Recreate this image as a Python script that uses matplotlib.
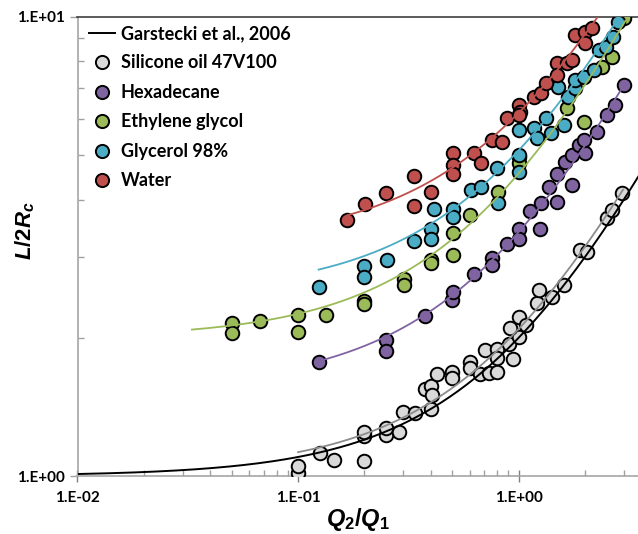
import numpy as np
import matplotlib
matplotlib.use("Agg")
import matplotlib.pyplot as plt
from matplotlib.lines import Line2D
from matplotlib.ticker import FixedLocator, FixedFormatter, NullFormatter

plt.rcParams["font.family"] = ["Lato", "DejaVu Sans"]
plt.rcParams["mathtext.fontset"] = "custom"
plt.rcParams["mathtext.it"] = "Liberation Sans:italic:bold"
plt.rcParams["mathtext.rm"] = "Liberation Sans:bold"

# ---------------- data (Q2/Q1, L/2Rc) ----------------
silicone_x = [0.1, 0.1, 0.126, 0.145, 0.2, 0.2, 0.2, 0.25, 0.25, 0.286, 0.3, 0.3375,
              0.4, 0.376, 0.4, 0.406, 0.428, 0.5, 0.5, 0.6, 0.6, 0.666, 0.734, 0.8,
              0.708, 0.8, 0.8, 0.946, 0.904, 1.0, 0.91, 1.0, 1.076, 1.215, 1.24,
              1.42, 1.61, 1.90, 2.05, 2.52, 2.66, 2.95]
silicone_y = [1.015, 1.053, 1.12, 1.083, 1.08, 1.22, 1.25, 1.23, 1.27, 1.245, 1.38, 1.374,
              1.40, 1.545, 1.57, 1.50, 1.668, 1.687, 1.632, 1.774, 1.717, 1.668, 1.673, 1.687,
              1.882, 1.888, 1.805, 1.796, 1.935, 2.01, 2.10, 2.22, 2.13, 2.38, 2.54,
              2.46, 2.61, 3.11, 3.07, 3.64, 3.80, 4.13]

hexadecane_x = [0.125, 0.25, 0.25, 0.376, 0.5, 0.504, 0.627, 0.754, 0.754, 0.882, 1.0, 1.0,
                1.25, 1.13, 1.26, 1.50, 1.37, 1.50, 1.75, 1.62, 1.75, 1.88, 2.01, 1.98,
                2.26, 2.51, 2.75, 3.0]
hexadecane_y = [1.775, 1.98, 1.87, 2.23, 2.42, 2.52, 2.76, 2.98, 2.88, 3.20, 3.45, 3.28,
                3.45, 3.77, 3.93, 3.96, 4.27, 4.56, 4.31, 4.82, 5.0, 5.26, 5.05, 5.40,
                5.63, 6.12, 6.43, 7.11]

ethylene_x = [0.05, 0.05, 0.067, 0.1, 0.1, 0.134, 0.2, 0.2, 0.302, 0.302, 0.402, 0.402,
              0.504, 0.504, 0.6, 0.806, 1.0, 1.0, 1.66, 1.98, 2.38, 2.66, 3.02]
ethylene_y = [2.15, 2.05, 2.18, 2.24, 2.06, 2.24, 2.40, 2.37, 2.68, 2.61, 2.96, 2.91,
              3.03, 3.38, 3.70, 4.16, 4.96, 4.80, 6.33, 5.91, 7.79, 8.20, 9.94]

glycerol_x = [0.125, 0.2, 0.2, 0.252, 0.335, 0.4, 0.4, 0.413, 0.504, 0.504, 0.606, 0.673,
              0.8, 0.806, 1.0, 1.0, 1.0, 1.17, 1.215, 1.33, 1.40, 1.51, 1.60, 1.67,
              1.81, 1.81, 1.98, 2.19, 2.31, 2.48, 2.69, 2.82]
glycerol_y = [2.58, 2.87, 2.72, 2.96, 3.25, 3.45, 3.28, 3.82, 3.82, 3.67, 4.20, 4.27,
              4.68, 3.93, 5.0, 4.60, 5.67, 5.72, 5.44, 6.02, 5.58, 7.03, 5.82, 6.70,
              6.99, 7.29, 7.41, 7.66, 8.48, 8.61, 9.06, 9.77]

water_x = [0.167, 0.202, 0.251, 0.335, 0.335, 0.40, 0.504, 0.504, 0.504, 0.627, 0.673,
           0.76, 0.843, 0.882, 1.0, 1.01, 1.0, 1.17, 1.26, 1.33, 1.50, 1.50, 1.66,
           1.75, 1.81, 2.01, 2.01, 2.16]
water_y = [3.61, 3.91, 4.13, 4.50, 3.88, 4.16, 5.05, 4.76, 4.56, 5.06, 4.80,
           5.40, 5.35, 6.02, 6.43, 6.22, 6.12, 6.70, 6.82, 7.17, 7.93, 7.47, 7.93,
           8.06, 9.14, 9.29, 8.76, 9.45]

# linear trendlines L/2Rc = a + b*Q2/Q1 : (a, b, x_start, x_end)
garstecki_fit = (1.0, 1.0, 0.01, 3.5)
silicone_fit = (1.02, 1.07, 0.1, 2.98)
hexadecane_fit = (1.55, 1.85, 0.125, 3.0)
ethylene_fit = (2.0, 2.56, 0.033, 3.05)
glycerol_fit = (2.49, 2.63, 0.124, 2.83)
water_fit = (3.20, 2.98, 0.167, 2.28)

x_ticks = [0.01, 0.1, 1.0]
x_tick_labels = ["1.E-02", "1.E-01", "1.E+00"]
y_ticks = [1.0, 10.0]
y_tick_labels = ["1.E+00", "1.E+01"]

series = [
    ("Silicone oil 47V100", silicone_x, silicone_y, silicone_fit, "#D9D9D9", "#8C8C8C"),
    ("Hexadecane", hexadecane_x, hexadecane_y, hexadecane_fit, "#8064A2", "#8064A2"),
    ("Ethylene glycol", ethylene_x, ethylene_y, ethylene_fit, "#9BBB59", "#9BBB59"),
    ("Glycerol 98%", glycerol_x, glycerol_y, glycerol_fit, "#4BACC6", "#4BACC6"),
    ("Water", water_x, water_y, water_fit, "#C0504D", "#C0504D"),
]


def fit_line(fit, n=200):
    a, b, x0, x1 = fit
    xs = np.logspace(np.log10(x0), np.log10(x1), n)
    return xs, a + b * xs


fig = plt.figure(figsize=(6.38, 5.34), dpi=100)
ax = fig.add_axes([77.5 / 638, 1 - 476 / 534, 1 - 77.5 / 638, 459 / 534])
ax.set_xscale("log")
ax.set_yscale("log")

for name, xs, ys, fit, fc, lc in series:
    ax.scatter(xs, ys, s=95, facecolor=fc, edgecolor="black", linewidth=1.4, zorder=3)
for name, xs, ys, fit, fc, lc in series:
    fx, fy = fit_line(fit)
    ax.plot(fx, fy, color=lc, lw=1.3, zorder=4)

gx, gy = fit_line(garstecki_fit)
ax.plot(gx, gy, color="black", lw=1.4, zorder=4)

ax.set_xlim(0.01, 3.48)
ax.set_ylim(1.0, 10.0)

ax.xaxis.set_major_locator(FixedLocator(x_ticks))
ax.xaxis.set_major_formatter(FixedFormatter(x_tick_labels))
ax.yaxis.set_major_locator(FixedLocator(y_ticks))
ax.yaxis.set_major_formatter(FixedFormatter(y_tick_labels))
ax.xaxis.set_minor_formatter(NullFormatter())
ax.yaxis.set_minor_formatter(NullFormatter())

for lab in ax.get_xticklabels() + ax.get_yticklabels():
    lab.set_fontweight("bold")
    lab.set_fontsize(11)

ax.tick_params(axis="x", which="major", direction="inout", length=9, width=1, color="#808080", pad=6)
ax.tick_params(axis="y", which="major", direction="out", length=6, width=1, color="#A0A0A0", pad=3)
ax.tick_params(which="minor", direction="in", length=4, width=1, color="#A0A0A0")

for side in ["left", "bottom"]:
    ax.spines[side].set_color("#A6A6A6")
    ax.spines[side].set_linewidth(1.2)
ax.spines["right"].set_visible(False)
ax.spines["top"].set_color("#404040")
ax.spines["top"].set_linewidth(1.2)

ax.set_xlabel(r"$Q_2/Q_1$", fontsize=17, labelpad=1)
ax.set_ylabel(r"$L/2R_c$", fontsize=16)
ax.yaxis.set_label_coords(-0.072, 0.534)

handles = [Line2D([], [], color="black", lw=1.4)]
labels = ["Garstecki et al., 2006"]
for name, xs, ys, fit, fc, lc in series:
    handles.append(Line2D([], [], ls="none", marker="o", markersize=9.5,
                          markerfacecolor=fc, markeredgecolor="black", markeredgewidth=1.4))
    labels.append(name)
leg = ax.legend(handles, labels, loc="upper left", bbox_to_anchor=(89 / 638, 1 - 25 / 534),
                bbox_transform=fig.transFigure, frameon=False, borderpad=0, borderaxespad=0,
                handlelength=1.45, handletextpad=0.3, labelspacing=0.69,
                prop={"weight": "bold", "size": 13})

fig.savefig("out.png", dpi=100)
